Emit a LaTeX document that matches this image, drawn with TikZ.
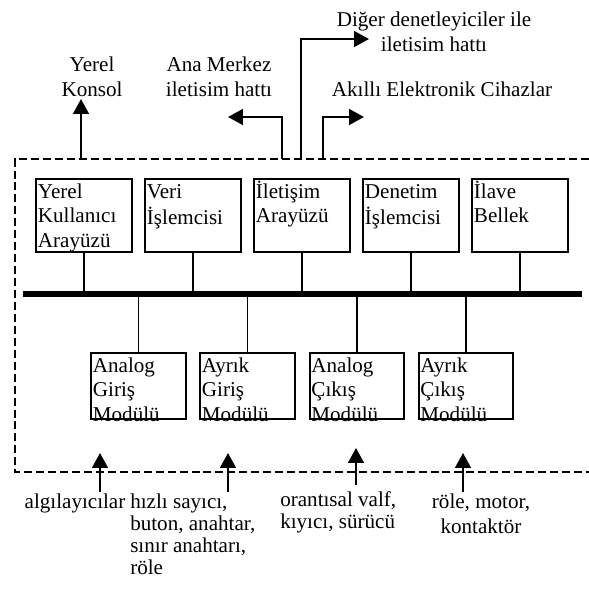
\documentclass[tikz,border=0pt]{standalone}
\usepackage{fontspec}
\setmainfont{Liberation Serif}
\usetikzlibrary{calc, arrows.meta}

\newcommand{\ustkutu}[1]{\parbox[c][49.2pt][t]{65.5pt}{\raggedright\strut#1}}
\newcommand{\altkutu}[1]{\parbox[c][44.3pt][t]{64.8pt}{\raggedright\strut#1}}

\begin{document}
\begin{tikzpicture}[
  kutu/.style={draw, line width=1.4pt, inner sep=1.25pt, font=\fontsize{15}{17.5}\selectfont},
  yazi/.style={inner sep=0pt, font=\fontsize{15}{17.5}\selectfont},
  yazisik/.style={inner sep=0pt, font=\fontsize{15}{15.6}\selectfont},
  ok/.style={line width=1.5pt, -{Triangle[length=0.37cm,width=0.39cm]}},
  ince/.style={line width=1.4pt}]

\useasboundingbox (0,0) rectangle (14.725,14.975);

\draw[line width=1.5pt, dash pattern=on 5.7pt off 2.8pt] (14.725,11) -- (0.375,11) -- (0.375,3.175) -- (14.725,3.175); % dashed frame

% upper row
\node[kutu] (yku) at (2.1,9.5875) {\ustkutu{Yerel\\Kullanıcı\\Arayüzü}};
\node[kutu] (vis) at (4.825,9.5875) {\ustkutu{Veri\\İşlemcisi}};
\node[kutu] (ila) at (7.55,9.5875) {\ustkutu{İletişim\\Arayüzü}};
\node[kutu] (dis) at (10.275,9.5875) {\ustkutu{Denetim\\İşlemcisi}};
\node[kutu] (ib) at (13,9.5875) {\ustkutu{İlave\\Bellek}};

% lower row
\node[kutu] (agm) at (3.4625,5.325) {\altkutu{Analog\\Giriş\\Modülü}};
\node[kutu] (ygm) at (6.1875,5.325) {\altkutu{Ayrık\\Giriş\\Modülü}};
\node[kutu] (acm) at (8.925,5.325) {\altkutu{Analog\\Çıkış\\Modülü}};
\node[kutu] (ycm) at (11.65,5.325) {\altkutu{Ayrık\\Çıkış\\Modülü}};

% bus
\coordinate (bus1) at (0.575,7.625);
\coordinate (bus2) at (14.55,7.625);
\draw[line width=3.8pt] (bus1) -- (bus2);
\foreach \k in {yku,vis,ila,dis,ib,agm,ygm,acm,ycm}
\draw[ince] (\k) -- (\k |- bus1);

% outside, top
\node[yazi, align=center, anchor=north] (konsol) at (2.3,13.55) {Yerel\\Konsol};
\node[yazi, align=center, anchor=north] (merkez) at (5.475,13.55) {Ana Merkez\\iletisim hattı};
\node[yazi, align=center, anchor=north] (diger) at (10.85,14.675) {Diğer denetleyiciler ile\\iletisim hattı};
\node[yazi, anchor=north] (akilli) at (11.05,12.925) {Akıllı Elektronik Cihazlar};

\coordinate (k0) at (2.025,11);  \coordinate (k1) at (2.025,12.5);
\coordinate (a0) at (7.05,11);   \coordinate (a1) at (5.7,12.05);
\coordinate (d0) at (7.525,11);  \coordinate (d1) at (9.225,14);
\coordinate (e0) at (8.075,11);  \coordinate (e1) at (9.1,12.05);
\draw[ok] (k0) -- (k1);
\draw[ok] (a0) |- (a1);
\draw[ok] (d0) |- (d1);
\draw[ok] (e0) |- (e1);

% outside, bottom
\foreach \x/\a/\b [count=\i] in {2.5/2.675/3.65, 5.7/2.675/3.65, 8.9/2.85/3.775, 11.575/2.675/3.65}
{
\coordinate (alt\i) at (\x,\a);
\coordinate (ust\i) at (\x,\b);
\draw[ok] (alt\i) -- (ust\i);
}

\node[yazi, anchor=north] (algi) at (1.875,2.625) {algılayıcılar};
\node[yazisik, align=left, anchor=north west] (hizli) at (3.25,2.625) {hızlı sayıcı,\\buton, anahtar,\\sınır anahtarı,\\röle};
\node[yazisik, align=left, anchor=north west] (orant) at (7.0,2.7) {orantısal valf,\\kıyıcı, sürücü};
\node[yazi, align=center, anchor=north] (role) at (12.025,2.625) {röle, motor,\\kontaktör};

\end{tikzpicture}
\end{document}
